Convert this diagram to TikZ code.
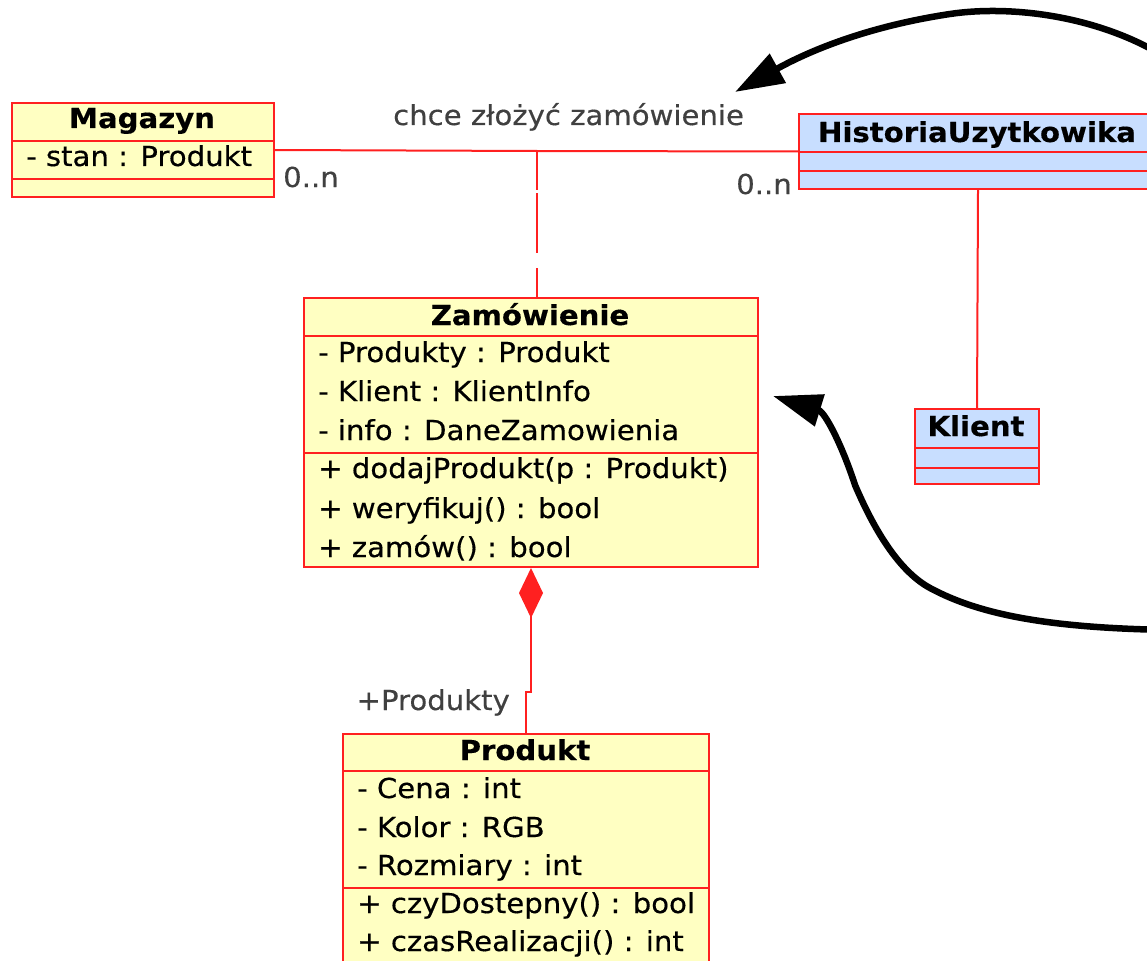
\documentclass[tikz,border=0pt]{standalone}
\usepackage{fontspec}
\setmainfont[FakeStretch=1.06,FakeBold=0.4]{DejaVu Sans}
\usetikzlibrary{arrows.meta}
\definecolor{umlred}{RGB}{255,32,32}
\definecolor{umlyellow}{RGB}{255,255,194}
\definecolor{umlblue}{RGB}{200,222,255}
\definecolor{lblgray}{RGB}{64,64,64}
\begin{document}
\begin{tikzpicture}[x=1pt,y=-1pt,
  classbox/.style={draw=umlred, line width=2pt, inner sep=0pt, anchor=north west, minimum width=#1},
  yel/.style={fill=umlyellow},
  blu/.style={fill=umlblue},
  sep/.style={draw=umlred, line width=2pt},
  ttl/.style={font=\fontsize{27.5}{32}\selectfont\bfseries, anchor=base, inner sep=0pt},
  row/.style={font=\fontsize{27.5}{32}\selectfont, anchor=base west, inner sep=0pt},
  lbl/.style={font=\fontsize{27.5}{32}\selectfont, text=lblgray, inner sep=0pt},
  assoc/.style={draw=umlred, line width=2pt},
  bigarrow/.style={draw=black, line width=6.5pt, -{Triangle[length=49pt,width=32pt]}, line join=round}
]
\useasboundingbox (0,0) rectangle (1147,960);
\clip (0,0) rectangle (1147,960);

% ---------- Magazyn ----------
\node[classbox=262pt, yel, minimum height=94pt] (mag) at (11,102) {};
\draw[sep] (11,141) -- (273,141);
\draw[sep] (11,179) -- (273,179);
\node[ttl] (magt) at (142,128) {Magazyn};
\node[row] (maga) at (26,166) {- stan : Produkt};

% ---------- HistoriaUzytkowika ----------
\node[classbox=358pt, blu, minimum height=75pt] (hist) at (798,113) {};
\draw[sep] (798,152) -- (1156,152);
\draw[sep] (798,171) -- (1156,171);
\node[ttl] (histt) at (977,142) {HistoriaUzytkowika};

% ---------- Klient ----------
\node[classbox=124pt, blu, minimum height=75pt] (kli) at (914,408) {};
\draw[sep] (914,448) -- (1038,448);
\draw[sep] (914,468) -- (1038,468);
\node[ttl] (klit) at (976,436) {Klient};

% ---------- Zamowienie ----------
\node[classbox=454pt, yel, minimum height=269pt] (zam) at (303,297) {};
\draw[sep] (303,336) -- (757,336);
\draw[sep] (303,453) -- (757,453);
\node[ttl] (zamt) at (530,325) {Zamówienie};
\node[row] (za1) at (318,362) {- Produkty : Produkt};
\node[row] (za2) at (318,401) {- Klient : KlientInfo};
\node[row] (za3) at (318,440) {- info : DaneZamowienia};
\node[row] (zm1) at (318,478) {+ dodajProdukt(p : Produkt)};
\node[row] (zm2) at (318,518) {+ weryfikuj() : bool};
\node[row] (zm3) at (318,557) {+ zamów() : bool};

% ---------- Produkt ----------
\node[classbox=366pt, yel, minimum height=240pt] (prod) at (342,733) {};
\draw[sep] (342,771) -- (708,771);
\draw[sep] (342,888) -- (708,888);
\node[ttl] (prodt) at (525,760) {Produkt};
\node[row] (pa1) at (357,798) {- Cena : int};
\node[row] (pa2) at (357,837) {- Kolor : RGB};
\node[row] (pa3) at (357,875) {- Rozmiary : int};
\node[row] (pm1) at (357,913) {+ czyDostepny() : bool};
\node[row] (pm2) at (357,951) {+ czasRealizacji() : int};

% ---------- associations ----------
\coordinate (j) at (537,151);
\draw[assoc] (mag.east) -- (j) -- (hist.west);
\draw[assoc, dash pattern=on 39pt off 3pt on 60pt off 15pt on 40pt] (j) -- (j |- zam.north);
\draw[assoc] (hist.south) -- (kli.north);
\draw[assoc, {Diamond[length=50pt,width=24pt,fill=umlred]}-] (zam.south) -- ++(0,124) -| (prod.north);

% ---------- labels ----------
\node[lbl, anchor=base west] (l1) at (393,125) {chce złożyć zamówienie};
\node[lbl, anchor=base west] (l2) at (283,187) {0..n};
\node[lbl, anchor=base east] (l3) at (792,194) {0..n};
\node[lbl, anchor=base east] (l4) at (510,710) {+Produkty};

% ---------- big black arrows ----------
\coordinate (a1s) at (1170,60);
\coordinate (a1e) at (735,92);
\draw[bigarrow] (a1s) .. controls (1100,15) and (1010,5) .. (950,14)
   .. controls (880,24.5) and (820,45) .. (a1e);
\coordinate (a2s) at (1170,630);
\coordinate (a2e) at (773,396);
\draw[bigarrow] (a2s) .. controls (1050,628) and (980,615) .. (930,588)
   .. controls (895,569) and (870,520) .. (855,485)
   .. controls (842,445) and (825,412) .. (a2e);
\end{tikzpicture}
\end{document}
